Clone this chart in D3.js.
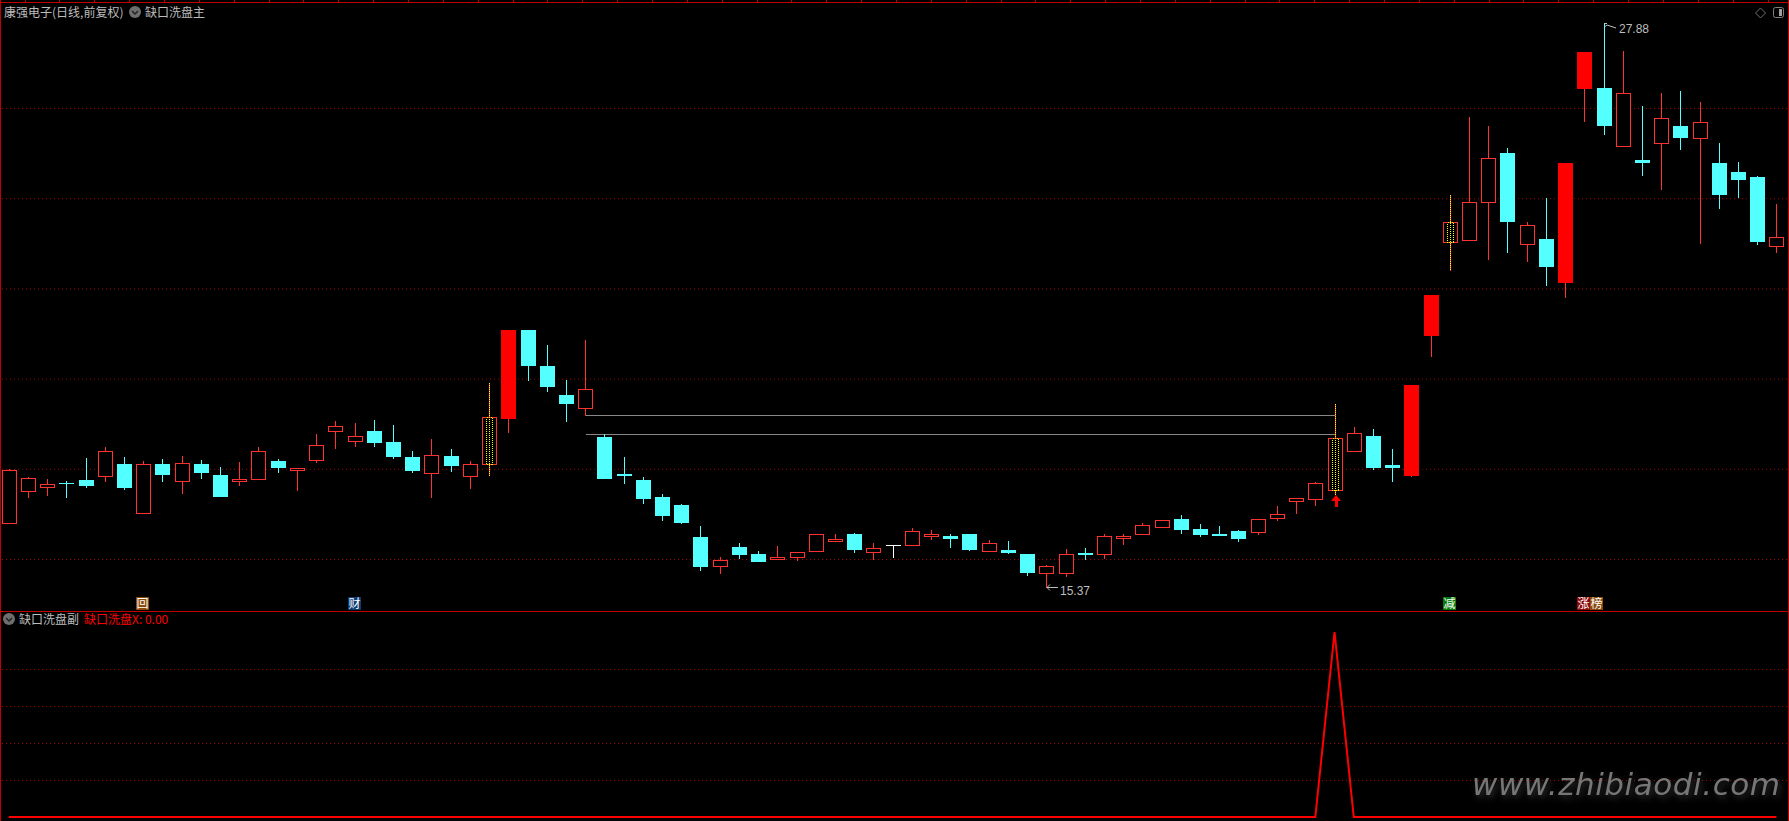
<!DOCTYPE html>
<html>
<head>
<meta charset="utf-8">
<title>康强电子</title>
<script src="https://cdn.jsdelivr.net/npm/d3@7/dist/d3.min.js"></script>
<style>
    html, body { margin: 0; padding: 0; background: #000; overflow: hidden; }
    svg { display: block; }
    text { font-family: "Noto Sans CJK SC", "Liberation Sans", sans-serif; font-size: 12px; }
    .num { font-family: "Liberation Sans", sans-serif; font-size: 12px; }
    .watermark { font-family: "DejaVu Sans", sans-serif; font-style: italic; font-size: 31px; filter: drop-shadow(2px 3px 3px rgba(110,110,110,0.45)); }
</style>
</head>
<body>
<script>
//Daily prices, one entry per trading day, left to right.
const openPrices = [16.80,17.50,17.59,17.69,17.75,17.83,18.11,17.03,18.11,17.74,18.11,17.87,17.74,17.77,18.18,17.97,18.19,18.83,18.61,18.84,18.60,18.27,17.90,18.29,17.85,18.10,19.13,21.08,20.29,19.64,19.34,18.71,17.89,17.76,17.38,17.20,16.49,15.84,16.27,16.12,15.99,16.04,16.17,16.41,16.56,16.15,16.32,16.32,16.50,16.52,16.56,16.17,16.21,16.10,15.70,15.68,16.14,16.10,16.47,16.55,16.70,16.89,16.67,16.56,16.61,16.59,16.92,17.28,17.32,17.52,18.39,18.73,18.09,17.87,20.97,23.02,23.07,23.91,25.01,22.98,23.10,22.15,26.45,26.45,25.15,24.85,25.22,25.59,25.33,24.79,24.59,24.48,22.93];
const highPrices = [17.99,17.82,17.78,17.73,18.25,18.49,18.27,18.17,18.22,18.29,18.20,18.05,18.14,18.49,18.22,18.02,18.78,19.07,19.02,19.09,18.98,18.40,18.67,18.45,18.17,19.91,21.08,21.08,20.75,19.98,20.86,18.78,18.27,17.82,17.45,17.23,16.74,16.05,16.36,16.18,16.29,16.16,16.56,16.56,16.58,16.36,16.32,16.69,16.65,16.56,16.56,16.43,16.41,16.12,15.87,16.23,16.25,16.56,16.56,16.80,16.86,16.98,16.78,16.74,16.65,16.89,17.18,17.35,17.71,19.44,18.93,18.89,18.45,19.86,21.86,24.06,25.81,25.59,25.12,23.48,24.01,24.77,27.25,27.88,27.27,26.05,26.34,26.38,26.14,25.23,24.81,24.50,23.88];
const lowPrices = [16.80,17.37,17.41,17.37,17.59,17.74,17.56,17.01,17.74,17.46,17.80,17.40,17.63,17.77,17.94,17.54,18.16,18.47,18.51,18.51,18.25,17.94,17.38,17.96,17.58,17.87,18.82,19.98,19.73,19.07,19.20,17.80,17.69,17.25,16.87,16.80,15.76,15.70,16.03,15.96,15.99,15.98,16.17,16.41,16.16,16.01,16.05,16.32,16.45,16.27,16.21,16.17,16.14,15.65,15.37,15.63,16.01,16.03,16.34,16.55,16.70,16.58,16.52,16.54,16.41,16.56,16.87,17.03,17.20,17.45,18.39,18.00,17.74,17.85,20.51,22.41,23.07,22.66,22.81,22.61,22.08,21.82,25.72,25.43,25.15,24.52,24.21,25.10,23.01,23.79,24.03,22.99,22.81];
const closePrices = [17.97,17.80,17.66,17.68,17.65,18.39,17.60,18.11,17.89,18.13,17.94,17.40,17.77,18.39,18.05,18.02,18.53,18.95,18.73,18.60,18.29,17.98,18.31,18.09,18.11,19.15,21.08,20.31,19.84,19.47,19.77,17.80,17.87,17.36,16.98,16.83,15.85,15.98,16.12,15.96,16.04,16.15,16.55,16.45,16.23,16.24,16.32,16.62,16.56,16.47,16.23,16.35,16.16,15.72,15.84,16.11,16.12,16.51,16.52,16.75,16.86,16.67,16.56,16.54,16.47,16.89,17.00,17.35,17.68,18.68,18.79,18.05,18.05,19.86,21.86,23.47,23.92,24.89,23.50,23.41,22.50,24.77,27.25,25.63,26.33,24.81,25.78,25.36,25.69,24.10,24.43,23.06,23.14];

//Days drawn filled instead of hollow, and days the indicator paints yellow (1-based).
const solidDays = [27,74,75,82,83];
const signalDays = [26,70,76];

//Main pane gridline prices and the two gap lines.
const gridPrices = [16,18,20,22,24,26];
const gapPrices = [19.20,18.78];
const gapDays = [31,70];

//Lower indicator: zero everywhere but on day 70.
const signalValues = openPrices.map((d, i) => 0);
signalValues[69] = 1;
const signalGrid = [0.2,0.4,0.6,0.8];

//Labels.
const tagDays = [8,19,76,83,84];
const tagLabels = ["回","财","减","涨","榜"];
const tagColors = {"回":"#8a4a0c","财":"#0b3a72","减":"#087a08","涨":"#8a0808","榜":"#8a4a0c"};
const titleMain = "康强电子(日线,前复权)";
const titleIndicator = "缺口洗盘主";
const titleSub = "缺口洗盘副";
const titleSubValue = "缺口洗盘X: 0.00";
const highLabel = "27.88";
const lowLabel = "15.37";
const watermark = "www.zhibiaodi.com";

document.addEventListener("DOMContentLoaded", function() {

    const width = 1789;
    const height = 821;
    const borderColor = "#c00000";
    const gridColor = "#a00000";
    const upColor = "#ff3232";
    const solidColor = "#ff0000";
    const downColor = "#54ffff";

    const svg = d3.select("body").append("svg").attr("width", width).attr("height", height);
    svg.append("rect").attr("width", width).attr("height", height).attr("fill", "#000");

    //Scales.
    const days = d3.range(1, openPrices.length + 1);
    const xScale = d3.scalePoint().domain(days).range([8.7, 1776.48]);
    const yScale = d3.scaleLinear().domain([16, 26]).range([559, 108]);
    const ySub = d3.scaleLinear().domain([0, 1]).range([817, 632]);
    const cx = (d) => Math.round(xScale(d));
    const py = (p) => Math.round(yScale(p));

    //Gridlines through the axis generators.
    function drawGrid(scale, values) {
        const g = svg.append("g")
            .attr("transform", "translate(2,0)")
            .call(d3.axisRight(scale).tickValues(values).tickSize(width - 4).tickFormat(""));
        g.select(".domain").remove();
        g.selectAll("line").attr("stroke", gridColor).attr("stroke-dasharray", "1 3");
    }
    drawGrid(yScale, gridPrices);
    drawGrid(ySub, signalGrid);

    //Pane borders.
    const borders = svg.append("g").attr("stroke", borderColor).attr("shape-rendering", "crispEdges");
    borders.append("line").attr("x1", 0).attr("x2", width).attr("y1", 2.5).attr("y2", 2.5);
    borders.append("line").attr("x1", 0).attr("x2", width).attr("y1", 611.5).attr("y2", 611.5);
    borders.append("line").attr("x1", 0.5).attr("x2", 0.5).attr("y1", 0).attr("y2", height);
    borders.append("line").attr("x1", 1788.5).attr("x2", 1788.5).attr("y1", 0).attr("y2", height);
    borders.selectAll(".tick").data(d3.range(0, 51)).enter().append("line")
        .attr("x1", (d) => Math.round(24.5 + d * 34.86) + 0.5)
        .attr("x2", (d) => Math.round(24.5 + d * 34.86) + 0.5)
        .attr("y1", 0).attr("y2", 2);

    //Gap lines.
    svg.selectAll(".gap").data(gapPrices).enter().append("line")
        .attr("x1", cx(gapDays[0]) + 1)
        .attr("x2", cx(gapDays[1]))
        .attr("y1", (d) => py(d) + 0.5)
        .attr("y2", (d) => py(d) + 0.5)
        .attr("stroke", "#888888")
        .attr("shape-rendering", "crispEdges");

    const barColor = (d) => {
        const o = openPrices[d-1], c = closePrices[d-1];
        if (solidDays.includes(d)) return solidColor;
        if (o === c) return "#ffffff";
        return c > o ? upColor : downColor;
    };

    //Wicks.
    svg.append("g").attr("shape-rendering", "crispEdges").selectAll("line")
        .data(days).enter().append("line")
        .attr("x1", (d) => cx(d) + 0.5)
        .attr("x2", (d) => cx(d) + 0.5)
        .attr("y1", (d) => py(highPrices[d-1]))
        .attr("y2", (d) => py(lowPrices[d-1]) + 1)
        .attr("stroke", (d) => solidDays.includes(d) ? upColor : barColor(d));

    //Candle bodies: hollow on up days, filled on the rest.
    const isHollow = (d) => closePrices[d-1] > openPrices[d-1] && !solidDays.includes(d);
    const bodies = svg.append("g").attr("shape-rendering", "crispEdges");
    bodies.selectAll("rect.up")
        .data(days.filter(isHollow))
        .enter().append("rect")
        .attr("x", (d) => cx(d) - 7 + 0.5)
        .attr("y", (d) => py(closePrices[d-1]) + 0.5)
        .attr("width", 14)
        .attr("height", (d) => py(openPrices[d-1]) - py(closePrices[d-1]))
        .attr("fill", "#000")
        .attr("stroke", barColor);
    bodies.selectAll("rect.down")
        .data(days.filter((d) => !isHollow(d)))
        .enter().append("rect")
        .attr("x", (d) => cx(d) - 7)
        .attr("y", (d) => py(Math.max(openPrices[d-1], closePrices[d-1])))
        .attr("width", 15)
        .attr("height", (d) => Math.abs(py(openPrices[d-1]) - py(closePrices[d-1])) + 1)
        .attr("fill", barColor);

    //Yellow signal overlay: dotted wick and inner box.
    const signals = svg.append("g").attr("shape-rendering", "crispEdges").attr("stroke", "#ffff00").attr("stroke-dasharray", "1 1").attr("fill", "none");
    signals.selectAll("line").data(signalDays).enter().append("line")
        .attr("x1", (d) => cx(d) + 0.5)
        .attr("x2", (d) => cx(d) + 0.5)
        .attr("y1", (d) => py(highPrices[d-1]))
        .attr("y2", (d) => py(lowPrices[d-1]) + 1);
    signals.selectAll("rect").data(signalDays).enter().append("rect")
        .attr("x", (d) => cx(d) - 3 + 0.5)
        .attr("y", (d) => py(closePrices[d-1]) + 0.5)
        .attr("width", 6)
        .attr("height", (d) => py(openPrices[d-1]) - py(closePrices[d-1]));

    //Red buy arrow under the signal day.
    const arrowDay = gapDays[1];
    svg.append("path")
        .attr("transform", "translate(" + (cx(arrowDay) + 1) + "," + (py(lowPrices[arrowDay-1]) + 1) + ")")
        .attr("d", "M0,0L5,6L2,6L2,12L-1,12L-1,6L-5,6Z")
        .attr("fill", solidColor);

    //Tags along the bottom of the main pane.
    const tags = svg.selectAll(".tag").data(tagDays).enter().append("g")
        .attr("transform", (d, i) => "translate(" + (d === 84 ? cx(83) + 6 : cx(d) - 7) + ",597)");
    tags.append("rect").attr("width", 13).attr("height", 13)
        .attr("fill", (d, i) => tagColors[tagLabels[i]]);
    tags.append("text").attr("x", 6.5).attr("y", 11).attr("text-anchor", "middle")
        .attr("fill", "#fff").text((d, i) => tagLabels[i]);

    //Lower indicator line.
    const line = d3.line().x((d, i) => xScale(i + 1)).y((d) => ySub(d));
    svg.append("path").datum(signalValues)
        .attr("d", line)
        .attr("fill", "none")
        .attr("stroke", "#ff0000")
        .attr("stroke-width", 2);

    //High and low labels with their small pointers.
    const textGray = "#bdbdbd";
    const highDay = highPrices.indexOf(d3.max(highPrices)) + 1;
    const lowDay = lowPrices.indexOf(d3.min(lowPrices)) + 1;
    svg.append("path")
        .attr("transform", "translate(" + cx(highDay) + "," + py(highPrices[highDay-1]) + ")")
        .attr("d", "M1,0.5H3M1,3.5L3,2L12,5")
        .attr("fill", "none").attr("stroke", textGray);
    svg.append("text").attr("class", "num")
        .attr("x", cx(highDay) + 15).attr("y", 33).attr("fill", textGray).text(highLabel);
    svg.append("path")
        .attr("transform", "translate(" + cx(lowDay) + "," + py(lowPrices[lowDay-1]) + ")")
        .attr("d", "M1,0.5H12M1,0.5L4,-2.5M1,0.5L4,3.5")
        .attr("fill", "none").attr("stroke", textGray);
    svg.append("text").attr("class", "num")
        .attr("x", cx(lowDay) + 14).attr("y", 595).attr("fill", textGray).text(lowLabel);

    //Pane titles.
    function drawChevron(x, y) {
        svg.append("circle").attr("cx", x).attr("cy", y).attr("r", 6).attr("fill", "#6e6e6e");
        svg.append("path").attr("d", "M" + (x-3) + "," + (y-1) + "l3,3l3,-3")
            .attr("fill", "none").attr("stroke", "#222").attr("stroke-width", 1.5);
    }
    svg.append("text").attr("x", 4).attr("y", 17).attr("fill", textGray).text(titleMain);
    drawChevron(135, 12);
    svg.append("text").attr("x", 145).attr("y", 17).attr("fill", textGray).text(titleIndicator);
    drawChevron(9, 619);
    svg.append("text").attr("x", 19).attr("y", 624).attr("fill", textGray).text(titleSub);
    svg.append("text").attr("x", 84).attr("y", 624).attr("fill", "#ff0000").text(titleSubValue);

    //Window icons, top right.
    svg.append("path").attr("d", "M1760.5,8l5,5l-5,5l-5,-5Z").attr("fill", "none").attr("stroke", "#707070");
    svg.append("rect").attr("x", 1773.5).attr("y", 7.5).attr("width", 10).attr("height", 10).attr("rx", 2)
        .attr("fill", "none").attr("stroke", "#808080");
    svg.append("rect").attr("x", 1779).attr("y", 9).attr("width", 3).attr("height", 7).attr("fill", "#a0a0a0");

    //Watermark.
    svg.append("text").attr("class", "watermark")
        .attr("x", 1472).attr("y", 795)
        .attr("textLength", 308).attr("lengthAdjust", "spacing")
        .attr("fill", "#777777").text(watermark);
});
</script>
</body>
</html>
